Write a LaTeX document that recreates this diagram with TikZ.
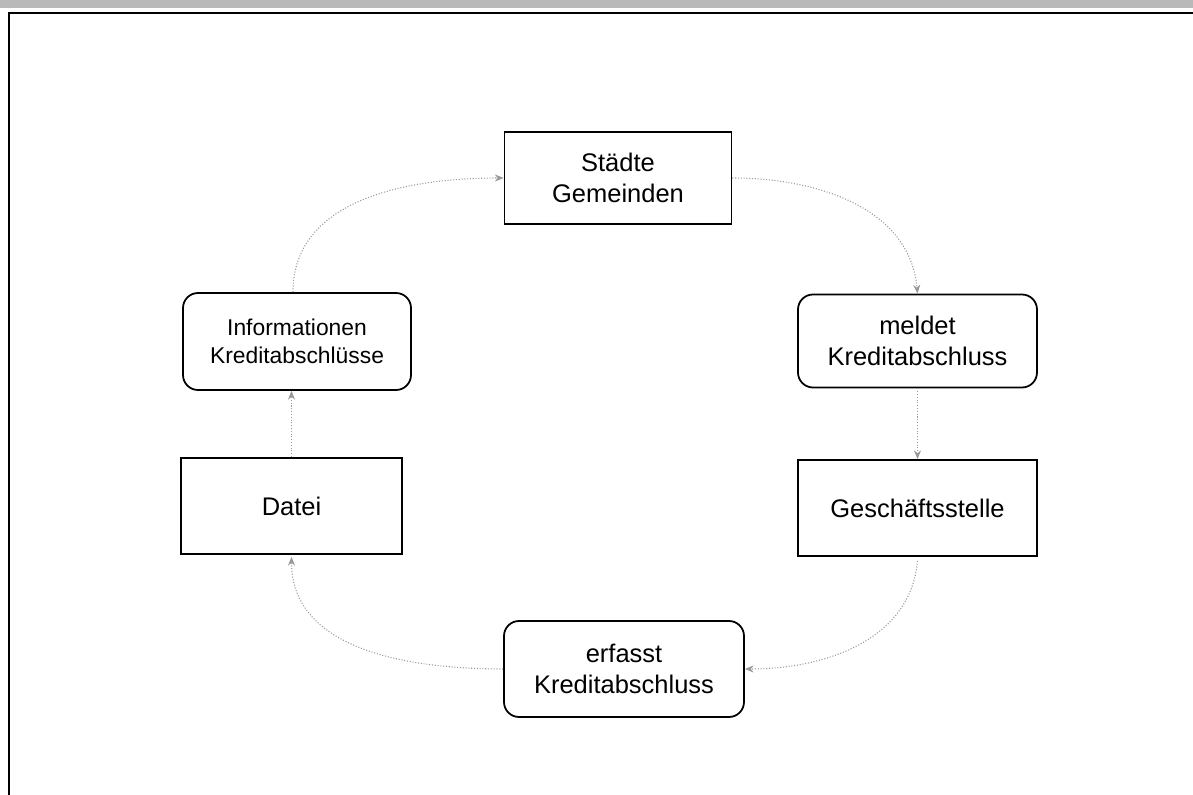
\documentclass[tikz,border=0pt]{standalone}
\usepackage{fontspec}
\setmainfont{Liberation Sans}
\usetikzlibrary{arrows.meta}
\tikzstyle{box}=[draw,line width=1pt,align=center,inner sep=0pt,font=\fontsize{14.5}{17.5}\selectfont]
\tikzstyle{roundbox}=[box,rounded corners=0.3cm]
\tikzstyle{flow}=[densely dotted,gray!80,line width=0.6pt,-{Stealth[length=5pt,width=4pt]}]

\begin{document}
\begin{tikzpicture}
\useasboundingbox (0,0) rectangle (23.86,15.9);

% frame of the scan
\fill[gray!55] (0,15.74) rectangle (23.86,15.9);
\draw[line width=1.2pt] (0.18,0) -- (0.18,15.64) -- (23.86,15.64);

\node[box,minimum width=4.54cm,minimum height=1.84cm] (staedte) at (12.36,12.34) {Städte\\Gemeinden};
\node[roundbox,minimum width=4.78cm,minimum height=1.86cm] (meldet) at (18.35,9.08) {meldet\\Kreditabschluss};
\node[box,minimum width=4.78cm,minimum height=1.92cm] (stelle) at (18.35,5.74) {Geschäftsstelle};
\node[roundbox,minimum width=4.8cm,minimum height=1.92cm] (erfasst) at (12.48,2.52) {erfasst\\Kreditabschluss};
\node[box,minimum width=4.42cm,minimum height=1.92cm] (datei) at (5.83,5.78) {Datei};
\node[roundbox,minimum width=4.56cm,minimum height=1.94cm,font=\fontsize{13}{16}\selectfont] (info) at (5.94,9.07) {Informationen\\Kreditabschlüsse};

\draw[flow] (staedte.east) to[out=0,in=95] (meldet.north);
\draw[flow] (meldet.south) -- (stelle.north);
\draw[flow] ([yshift=-0.08cm]stelle.south) to[out=-95,in=0] (erfasst.east);
\draw[flow] (erfasst.west) to[out=180,in=-90] ([yshift=-0.04cm]datei.south);
\draw[flow] (datei.north) -- (datei.north |- info.south);
\draw[flow] ([xshift=-0.08cm]info.north) to[out=90,in=180] (staedte.west);
\end{tikzpicture}
\end{document}
